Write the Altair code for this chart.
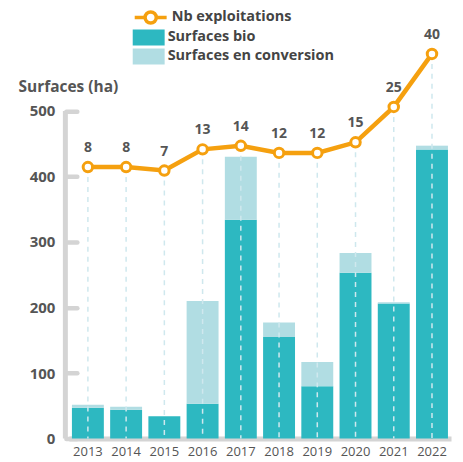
import altair as alt
import pandas as pd

years = ["2013", "2014", "2015", "2016", "2017", "2018", "2019", "2020", "2021", "2022"]
surfaces_bio = [47, 44, 34, 53, 334, 155, 80, 253, 206, 441]
surfaces_conversion = [4.5, 4.5, 0, 157, 96, 22, 37, 30, 2, 6]
nb_exploitations = [8, 8, 7, 13, 14, 12, 12, 15, 25, 40]
series = ["Surfaces bio", "Surfaces en conversion"]
line_name = "Nb exploitations"
y_ticks = [0, 100, 200, 300, 400, 500]

FONT = "Open Sans"
TEAL = "#2db8c1"
LIGHT = "#b1dde3"
ORANGE = "#f5a00f"
GRAY = "#d4d4d4"
TXT = "#555555"
W, H = 383, 394

bars_df = pd.DataFrame({
    "year": years * 2,
    "serie": [series[0]] * len(years) + [series[1]] * len(years),
    "k": [0] * len(years) + [1] * len(years),
    "value": surfaces_bio + surfaces_conversion,
})
line_df = pd.DataFrame({"year": years, "nb": nb_exploitations, "serie": [line_name] * len(years)})
axis_df = pd.DataFrame({"lo": [y_ticks[0]], "hi": [y_ticks[-1]]})

RECT_PATH = "M-2,-1H2V1H-2Z"
LINE_PATH = "M-2,0H-0.7M0.7,0H2M-0.7,0A0.7,0.7,0,1,0,0.7,0A0.7,0.7,0,1,0,-0.7,0Z"

x_enc = alt.X(
    "year:O", title=None,
    scale=alt.Scale(paddingInner=0.165, paddingOuter=0.08),
    axis=alt.Axis(labelAngle=0, ticks=False, domainColor=GRAY, domainWidth=5,
                  labelFontSize=13, labelColor=TXT, labelPadding=7, labelFont=FONT),
)
bar_scale = alt.Scale(domain=[0, 600], nice=False)

bars = alt.Chart(bars_df).mark_bar().encode(
    x=x_enc,
    y=alt.Y("value:Q", stack="zero", scale=bar_scale,
            axis=alt.Axis(values=y_ticks, title="Surfaces (ha)", domain=False, grid=False,
                          offset=-8, tickSize=11, tickWidth=4.5, tickColor=GRAY, tickCap="round",
                          labelPadding=11, labelFontSize=15, labelFontWeight="bold",
                          labelColor=TXT, labelFont=FONT,
                          titleAngle=0, titleAlign="left", titleBaseline="middle",
                          titleX=-59, titleY=41, titleFontSize=15.5, titleFontWeight="bold",
                          titleColor=TXT, titleFont=FONT)),
    color=alt.Color("serie:N", scale=alt.Scale(domain=series, range=[TEAL, LIGHT]),
                    legend=alt.Legend(title=None, orient="none", legendX=72, legendY=-16,
                                      symbolType=RECT_PATH, symbolSize=256, symbolStrokeWidth=0,
                                      symbolOpacity=1, rowPadding=3, padding=0, labelLimit=400,
                                      labelFontSize=14.5, labelFontWeight="bold", labelColor="#444444",
                                      labelFont=FONT, labelOffset=11)),
    order=alt.Order("k:Q"),
)
axis_rule = alt.Chart(axis_df).mark_rule(color=GRAY, strokeWidth=5).encode(
    x=alt.value(-3.5),
    y=alt.Y("lo:Q", scale=bar_scale, title="Surfaces (ha)"),
    y2="hi:Q",
)
bar_group = alt.layer(bars, axis_rule)

yl = alt.Y("nb:Q", scale=alt.Scale(domain=[-68.8, 42.4], nice=False, zero=False), axis=None)
dashes = alt.Chart(line_df).mark_rule(color="#cfe8ee", strokeWidth=1.5, strokeDash=[5, 5]).encode(
    x="year:O", y=yl, y2=alt.value(H)
)
line = alt.Chart(line_df).mark_line(strokeWidth=4.5).encode(
    x="year:O", y=yl,
    stroke=alt.Stroke("serie:N", scale=alt.Scale(domain=[line_name], range=[ORANGE]),
                      legend=alt.Legend(title=None, orient="none", legendX=72, legendY=-38,
                                        symbolType=LINE_PATH, symbolSize=256, symbolStrokeWidth=3.5,
                                        symbolFillColor="white", padding=0, labelLimit=400,
                                        labelFontSize=14.5, labelFontWeight="bold", labelColor="#444444",
                                        labelFont=FONT, labelOffset=11)),
)
points = alt.Chart(line_df).mark_point(filled=True, fill="white", stroke=ORANGE, strokeWidth=3,
                                        size=90, opacity=1).encode(x="year:O", y=yl)
labels = alt.Chart(line_df).mark_text(dy=-19, fontSize=14, fontWeight="bold", color=TXT, font=FONT).encode(
    x="year:O", y=yl, text="nb:Q"
)
line_group = alt.layer(dashes, line, points, labels)

chart = alt.layer(bar_group, line_group).resolve_scale(y="independent").properties(
    width=W, height=H,
    autosize=alt.AutoSizeParams(type="none"),
    padding={"left": 61, "top": 37, "right": 4, "bottom": 23},
).configure_view(strokeWidth=0)

chart.save("out.html", embed_options={"renderer": "svg", "actions": False})
